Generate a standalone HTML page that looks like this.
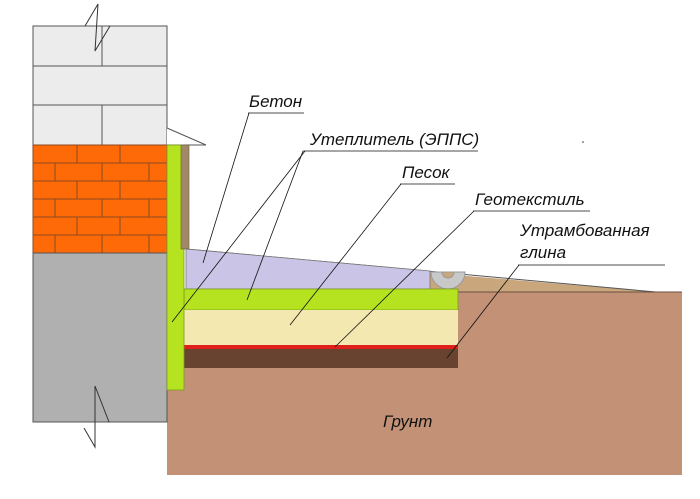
<!DOCTYPE html>
<html><head><meta charset="utf-8"><style>
html,body{margin:0;padding:0;background:#fff;}
svg{display:block;}
text{font-family:"Liberation Sans",sans-serif;font-style:italic;font-size:17px;fill:#111;}
</style></head><body>
<svg width="700" height="499" viewBox="0 0 700 499" xmlns="http://www.w3.org/2000/svg">
<rect x="167" y="292" width="515" height="183" fill="#c39276"/>
<polygon points="420,272 656,292 420,292" fill="#c9a67c"/>
<line x1="186" y1="249" x2="656" y2="292" stroke="#555" stroke-width="1"/>
<line x1="458" y1="292" x2="682" y2="292" stroke="#6b5040" stroke-width="1"/>
<polygon points="186,249 430,271 430,289 186,289" fill="#cac4e6" stroke="#777" stroke-width="0.8"/>
<path d="M431,272 A17,17 0 0 0 465,272 Z" fill="#c8c8c8" stroke="#999"/>
<path d="M442,272 A6,6 0 0 0 454,272 Z" fill="#c9a67c" stroke="#999"/>
<rect x="184" y="289" width="274" height="21" fill="#b5e31f" stroke="#7a9a20" stroke-width="0.8"/>
<rect x="184" y="310" width="274" height="35" fill="#f3e9b0"/>
<rect x="184" y="345" width="274" height="4" fill="#e0201a"/>
<rect x="184" y="349" width="274" height="19" fill="#684430"/>
<rect x="33" y="26" width="134" height="119" fill="#ececec" stroke="#555" stroke-width="1"/>
<line x1="33" y1="66" x2="167" y2="66" stroke="#555"/>
<line x1="33" y1="105" x2="167" y2="105" stroke="#555"/>
<line x1="102" y1="26" x2="102" y2="66" stroke="#555"/>
<line x1="102" y1="105" x2="102" y2="145" stroke="#555"/>
<rect x="33" y="145" width="134" height="108" fill="#ff6a08" stroke="#8a4a20" stroke-width="1"/>
<g stroke="#8a4a20" stroke-width="1">
<line x1="33" y1="163" x2="167" y2="163"/><line x1="33" y1="181" x2="167" y2="181"/>
<line x1="33" y1="199" x2="167" y2="199"/><line x1="33" y1="217" x2="167" y2="217"/>
<line x1="33" y1="235" x2="167" y2="235"/>
<line x1="77" y1="145" x2="77" y2="163"/><line x1="120" y1="145" x2="120" y2="163"/>
<line x1="55" y1="163" x2="55" y2="181"/><line x1="102" y1="163" x2="102" y2="181"/><line x1="149" y1="163" x2="149" y2="181"/>
<line x1="77" y1="181" x2="77" y2="199"/><line x1="120" y1="181" x2="120" y2="199"/>
<line x1="55" y1="199" x2="55" y2="217"/><line x1="102" y1="199" x2="102" y2="217"/><line x1="149" y1="199" x2="149" y2="217"/>
<line x1="77" y1="217" x2="77" y2="235"/><line x1="120" y1="217" x2="120" y2="235"/>
<line x1="55" y1="235" x2="55" y2="253"/><line x1="102" y1="235" x2="102" y2="253"/><line x1="149" y1="235" x2="149" y2="253"/>
</g>
<rect x="33" y="253" width="134" height="169" fill="#b0b0b0" stroke="#555" stroke-width="1"/>
<polyline points="85,26 98,4 95,51 110,26" fill="none" stroke="#333" stroke-width="1"/>
<polyline points="84,428 95,447 95,386 109,422" fill="none" stroke="#333" stroke-width="1"/>
<polyline points="167,128 206,145 167,145" fill="#fff" stroke="#555" stroke-width="1"/>
<rect x="167" y="145" width="17" height="245" fill="#b5e31f" stroke="#7a9a20" stroke-width="0.8"/>
<rect x="181" y="145" width="8" height="104" fill="#a08868" stroke="#6a5a40" stroke-width="0.6"/>
<g stroke="#111" stroke-width="0.8" fill="none">
<line x1="248" y1="113" x2="304" y2="113"/><line x1="249" y1="113" x2="203" y2="263"/>
<line x1="303" y1="151" x2="478" y2="151"/><line x1="305" y1="151" x2="172" y2="322"/><line x1="303" y1="151" x2="247" y2="300"/>
<line x1="400" y1="184" x2="455" y2="184"/><line x1="401" y1="184" x2="290" y2="325"/>
<line x1="473" y1="211" x2="590" y2="211"/><line x1="474" y1="211" x2="335" y2="347"/>
<line x1="518" y1="265" x2="665" y2="265"/><line x1="519" y1="265" x2="447" y2="358"/>
</g>
<circle cx="583" cy="142" r="0.8" fill="#333"/>
<text x="249" y="107">Бетон</text>
<text x="310" y="145">Утеплитель (ЭППС)</text>
<text x="402" y="178">Песок</text>
<text x="475" y="205">Геотекстиль</text>
<text x="520" y="236">Утрамбованная</text>
<text x="520" y="258">глина</text>
<text x="383" y="427">Грунт</text>
</svg>
</body></html>
